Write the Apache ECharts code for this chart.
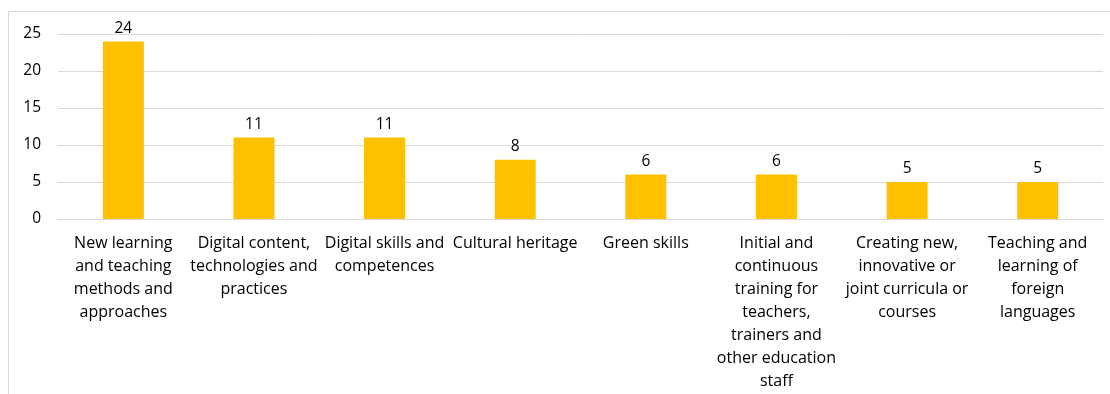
<!DOCTYPE html>
<html>
<head>
<meta charset="utf-8">
<script src="https://cdn.jsdelivr.net/npm/echarts@6/dist/echarts.min.js"></script>
<style>
  html, body { margin: 0; padding: 0; background: #fff; }
  #chart { width: 1110px; height: 394px; }
</style>
</head>
<body>
<div id="chart"></div>
<script>
// Topics addressed by projects (number of projects)
const categories = [
  'New learning\nand teaching\nmethods and\napproaches',
  'Digital content,\ntechnologies and\npractices',
  'Digital skills and\ncompetences',
  'Cultural heritage',
  'Green skills',
  'Initial and\ncontinuous\ntraining for\nteachers,\ntrainers and\nother education\nstaff',
  'Creating new,\ninnovative or\njoint curricula or\ncourses',
  'Teaching and\nlearning of\nforeign\nlanguages'
];
const counts = [24, 11, 11, 8, 6, 6, 5, 5];
const yTicks = { min: 0, max: 25, interval: 5 };

const font = '"Open Sans", Lato, sans-serif';
const chart = echarts.init(document.getElementById('chart'));
chart.setOption({
  animation: false,
  textStyle: { fontFamily: font },
  graphic: [{
    // chart area border (open on the right and bottom)
    type: 'rect',
    shape: { x: 8.5, y: 11.5, width: 1200, height: 400 },
    style: { fill: 'none', stroke: '#d9d9d9', lineWidth: 1 },
    silent: true
  }],
  grid: { left: 58, right: 7, top: 34, bottom: 175, containLabel: false },
  xAxis: {
    type: 'category',
    data: categories,
    axisLine: { show: true, lineStyle: { color: '#d9d9d9', width: 1 } },
    axisTick: { show: false },
    axisLabel: {
      interval: 0,
      margin: 13,
      color: '#000',
      fontSize: 16,
      lineHeight: 23,
      fontFamily: font,
      align: 'center'
    }
  },
  yAxis: {
    type: 'value',
    min: yTicks.min,
    max: yTicks.max,
    interval: yTicks.interval,
    axisLine: { show: false },
    axisTick: { show: false },
    splitLine: { lineStyle: { color: '#d9d9d9', width: 1 } },
    axisLabel: { color: '#000', fontSize: 15.5, margin: 17, fontFamily: font }
  },
  series: [{
    type: 'bar',
    data: counts,
    barWidth: 41,
    itemStyle: { color: '#FFC000' },
    label: {
      show: true,
      position: 'top',
      distance: 5,
      color: '#000',
      fontSize: 15.5,
      fontFamily: font
    }
  }]
});
</script>
</body>
</html>
